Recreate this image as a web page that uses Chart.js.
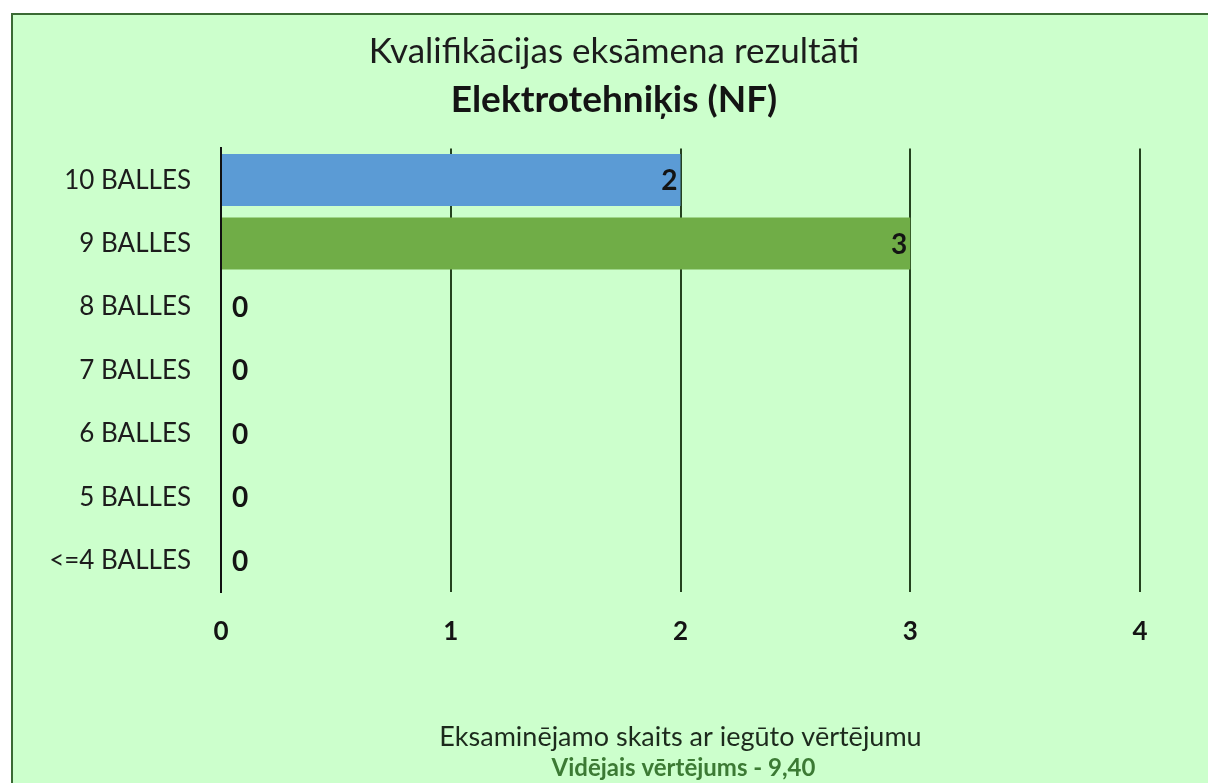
<!DOCTYPE html>
<html>
<head>
<meta charset="utf-8">
<script src="https://cdn.jsdelivr.net/npm/chart.js@4/dist/chart.umd.min.js"></script>
<style>
  html, body { margin: 0; padding: 0; background: #fff; overflow: hidden; }
  #panel {
    position: absolute; left: 11px; top: 13px; width: 1220px; height: 800px;
    background: #ccffcc; border-top: 2px solid #3a6a34; border-left: 2px solid #3a6a34;
  }
  #wrap { position: absolute; left: 0; top: 0; width: 1208px; height: 783px; }
</style>
</head>
<body>
<div id="panel"></div>
<div id="wrap"><canvas id="myChart"></canvas></div>
<script>
const categories = ["10 BALLES", "9 BALLES", "8 BALLES", "7 BALLES", "6 BALLES", "5 BALLES", "<=4 BALLES"];
const counts = [2, 3, 0, 0, 0, 0, 0];
const barColors = ["#5b9bd5", "#70ad47", "#70ad47", "#70ad47", "#70ad47", "#70ad47", "#70ad47"];
const xTicks = [0, 1, 2, 3, 4];
const titleText = "Kvalifikācijas eksāmena rezultāti";
const subtitleText = "Elektrotehniķis (NF)";
const axisTitle = "Eksaminējamo skaits ar iegūto vērtējumu";
const averageText = "Vidējais vērtējums - 9,40";

const FONT = "Lato, 'Noto Sans', sans-serif";

// value labels: inside the bar end, or just right of the axis for zeros
const valueLabels = {
    id: "valueLabels",
    afterDatasetsDraw(chart) {
        const ctx = chart.ctx;
        const meta = chart.getDatasetMeta(0);
        ctx.save();
        ctx.font = "bold 28px " + FONT;
        ctx.fillStyle = "#141414";
        ctx.textBaseline = "middle";
        meta.data.forEach((bar, i) => {
            const v = counts[i];
            if (v > 0) {
                ctx.textAlign = "right";
                ctx.fillText(String(v), bar.x - 3, bar.y + 1);
            } else {
                ctx.textAlign = "left";
                ctx.fillText(String(v), bar.x + 11, bar.y + 1);
            }
        });
        ctx.restore();
    }
};

// second line under the x axis title
const averageLine = {
    id: "averageLine",
    afterDraw(chart) {
        const ctx = chart.ctx;
        const x = chart.scales.x;
        ctx.save();
        ctx.font = "bold 24px " + FONT;
        ctx.fillStyle = "#3c7a34";
        ctx.textAlign = "center";
        ctx.textBaseline = "middle";
        ctx.fillText(averageText, (x.left + x.right) / 2 + 3, x.bottom - 15);
        ctx.restore();
    }
};

new Chart(document.getElementById("myChart"), {
    type: "bar",
    data: {
        labels: categories,
        datasets: [{
            data: counts,
            backgroundColor: barColors,
            borderWidth: 0,
            barPercentage: 0.82,
            categoryPercentage: 1
        }]
    },
    plugins: [valueLabels, averageLine],
    options: {
        indexAxis: "y",
        responsive: true,
        maintainAspectRatio: false,
        animation: false,
        layout: { padding: { left: 32, right: 12, top: 14, bottom: 0 } },
        plugins: {
            legend: { display: false },
            tooltip: { enabled: false },
            title: {
                display: true,
                text: titleText,
                color: "#1c1c1c",
                font: { family: FONT, size: 35, weight: "normal", lineHeight: 1.2 },
                padding: { top: 17, bottom: 0 }
            },
            subtitle: {
                display: true,
                text: subtitleText,
                color: "#141414",
                font: { family: FONT, size: 37, weight: "bold", lineHeight: 1.2 },
                padding: { top: 5, bottom: 26 }
            }
        },
        scales: {
            x: {
                min: 0,
                max: 4,
                afterBuildTicks(scale) {
                    scale.ticks = xTicks.map(v => ({ value: v }));
                },
                grid: {
                    display: true,
                    drawTicks: false,
                    color: "#25421f",
                    lineWidth: 2
                },
                border: { display: false },
                ticks: {
                    padding: 24,
                    color: "#141414",
                    font: { family: FONT, size: 26, weight: "bold", lineHeight: 1.2 }
                },
                title: {
                    display: true,
                    text: axisTitle,
                    color: "#1c2a1c",
                    font: { family: FONT, size: 27, weight: "normal", lineHeight: 1.2 },
                    padding: { top: 49, bottom: 30 }
                }
            },
            y: {
                afterFit(scale) { scale.width = 189; },
                grid: { display: false, drawTicks: false },
                border: { display: true, color: "#111", width: 2 },
                ticks: {
                    padding: 30,
                    color: "#1c1c1c",
                    font: { family: FONT, size: 26, weight: "normal", lineHeight: 1.2 }
                }
            },
            // empty right-hand axis, only keeps the plot's right edge at tick 4
            yRight: {
                type: "category",
                position: "right",
                afterFit(scale) { scale.width = 56; },
                grid: { display: false, drawTicks: false },
                border: { display: false },
                ticks: { display: false }
            }
        }
    }
});
</script>
</body>
</html>
